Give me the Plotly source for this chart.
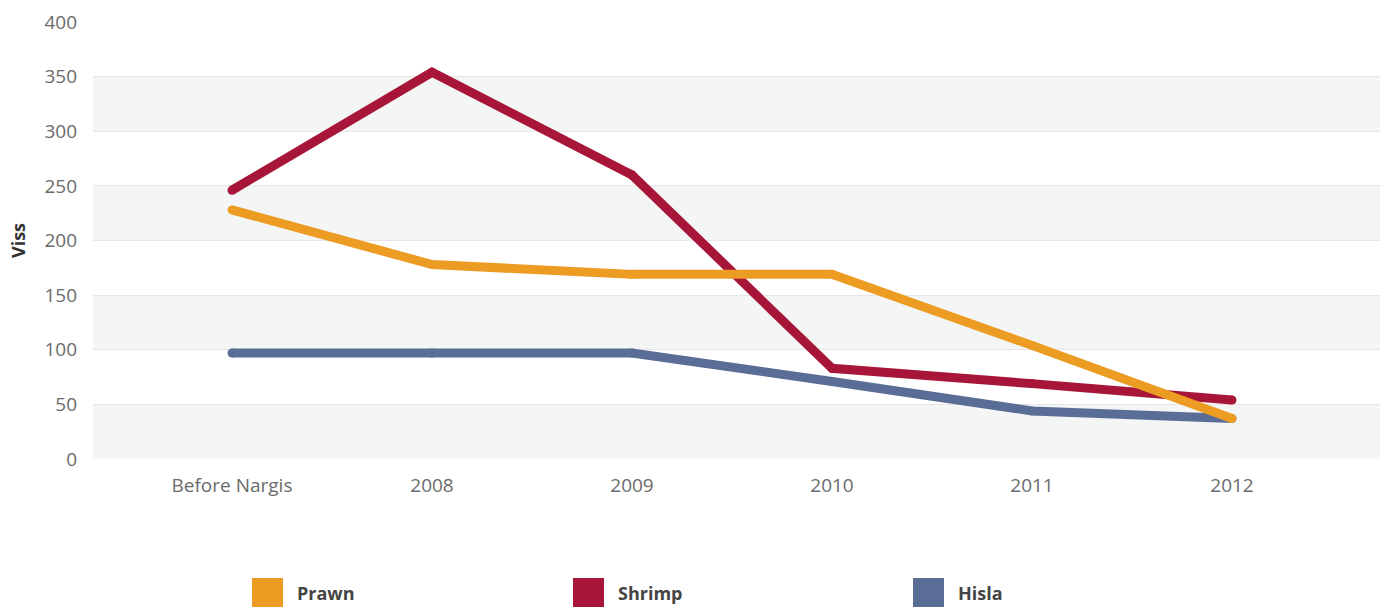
import plotly.graph_objects as go

categories = ["Before Nargis", "2008", "2009", "2010", "2011", "2012"]
prawn = [228, 178, 169, 169, 104, 37]
shrimp = [246, 354, 260, 83, 69, 54]
hisla = [97, 97, 97, 71, 44, 37]

series_names = ["Prawn", "Shrimp", "Hisla"]
colors = {"Prawn": "#EC9C22", "Shrimp": "#A71638", "Hisla": "#5A6D96"}
values = {"Prawn": prawn, "Shrimp": shrimp, "Hisla": hisla}

W, H = 1382, 607
M_L, M_R, M_T, M_B = 93, 2, 22, 148
plot_w = W - M_L - M_R
plot_h = H - M_T - M_B

fig = go.Figure()

# draw order: Hisla at the bottom, Prawn on top
# markers same size as line width give the rounded caps/joins
for name in ["Hisla", "Shrimp", "Prawn"]:
    fig.add_trace(go.Scatter(
        x=categories, y=values[name], mode="lines+markers", name=name,
        line=dict(color=colors[name], width=9),
        marker=dict(size=9, color=colors[name], line_width=0),
        showlegend=False,
    ))

# alternating bands
for lo in [0, 100, 200, 300]:
    fig.add_shape(type="rect", xref="paper", yref="y", x0=0, x1=1,
                  y0=lo, y1=lo + 50, fillcolor="#F4F6F5", line_width=0,
                  layer="below")

# legend: square swatch + bold label, pixel positions converted to paper coords
legend_left = [252, 573, 913]
sw = 31
sw_top = 578
for name, px_left in zip(series_names, legend_left):
    x0 = (px_left - M_L) / plot_w
    x1 = (px_left + sw - M_L) / plot_w
    y1 = (H - M_B - sw_top) / plot_h
    y0 = (H - M_B - sw_top - sw) / plot_h
    fig.add_shape(type="rect", xref="paper", yref="paper",
                  x0=x0, x1=x1, y0=y0, y1=y1,
                  fillcolor=colors[name], line_width=0)
    fig.add_annotation(
        xref="paper", yref="paper", x=(px_left + sw + 12 - M_L) / plot_w,
        y=(H - M_B - 593) / plot_h, xanchor="left", yanchor="middle",
        text="<b>" + name + "</b>", showarrow=False,
        font=dict(size=18, color="#444444"),
    )

fig.update_layout(
    width=W, height=H,
    margin=dict(l=M_L, r=M_R, t=M_T, b=M_B),
    paper_bgcolor="white", plot_bgcolor="white",
    font=dict(family="Open Sans, sans-serif", color="#6B6B6B", size=19),
    showlegend=False,
    hovermode=False,
    xaxis=dict(
        type="category", range=[-0.695, 5.74], automargin=False,
        showgrid=False, zeroline=False, showline=False,
        ticks="", ticklabelstandoff=13,
        tickfont=dict(size=19, color="#6B6B6B"),
    ),
    yaxis=dict(
        range=[0, 400], dtick=50, tick0=0, automargin=False,
        gridcolor="#E6E6E6", gridwidth=1, zeroline=False, showline=False,
        ticks="", ticklabelstandoff=15,
        tickfont=dict(size=19, color="#6B6B6B"),
        title=dict(text="<b>Viss</b>", font=dict(size=18, color="#333333"),
                   standoff=14),
    ),
)

fig.write_html("out.html", config={"displayModeBar": False},
               post_script="document.body.style.margin='0';")
